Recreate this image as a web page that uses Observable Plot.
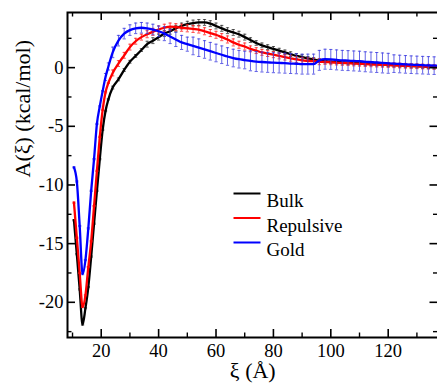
<!DOCTYPE html>
<html>
<head>
<meta charset="utf-8">
<script src="https://cdn.jsdelivr.net/npm/d3@7"></script>
<script src="https://cdn.jsdelivr.net/npm/@observablehq/plot@0.6"></script>
<style>
  html, body { margin: 0; padding: 0; background: #fff; overflow: hidden; }
  svg, svg text { font-family: 'Liberation Serif', 'Times New Roman', serif !important; }
</style>
</head>
<body>
<div id="chart"></div>
<script>
// ξ (Å) sample positions
const xs = [10.5, 11.5, 12.5, 13.5, 14.5, 15.5, 16.5, 17.5, 18.5, 19.5, 20.5, 21.5, 22.5,
  24, 26, 28, 30, 32, 34, 36, 38, 40, 42, 44, 46, 48, 50, 52, 54, 56, 58, 60, 62, 64, 66, 68, 70,
  72, 74, 76, 78, 80, 82, 84, 86, 88, 90, 92, 94, 96, 98, 100, 102, 104, 106, 108, 110, 112, 114,
  116, 118, 120, 122, 124, 126, 128, 130, 132, 134, 136, 138];

// A(ξ) (kcal/mol)
const bulk = [-13.0, -15.9, -18.9, -21.9, -20.5, -18.7, -16.1, -13.3, -10.5, -7.8, -5.3, -3.7, -2.7,
  -1.7, -1.0, -0.2, 0.5, 1.0, 1.5, 2.0, 2.3, 2.6, 2.9, 3.1, 3.35, 3.55, 3.7, 3.8, 3.85, 3.85, 3.75, 3.55, 3.35, 3.15, 3.0, 2.85, 2.6,
  2.35, 2.1, 1.9, 1.75, 1.6, 1.45, 1.3, 1.15, 1.0, 0.9, 0.8, 0.7, 0.6, 0.55, 0.5, 0.48, 0.45, 0.42, 0.4, 0.38, 0.35, 0.33,
  0.3, 0.28, 0.25, 0.22, 0.2, 0.18, 0.15, 0.13, 0.1, 0.08, 0.05, 0.04];
const repulsive = [-11.5, -14.5, -17.5, -20.4, -19.4, -17.0, -14.8, -11.8, -8.8, -5.9, -3.6, -2.1, -1.3,
  -0.45, 0.35, 1.05, 1.75, 2.25, 2.6, 2.85, 3.05, 3.25, 3.4, 3.5, 3.45, 3.4, 3.35, 3.3, 3.25, 3.1, 2.95, 2.8, 2.6, 2.4, 2.15, 1.95, 1.8,
  1.6, 1.45, 1.3, 1.2, 1.1, 1.0, 0.9, 0.8, 0.7, 0.62, 0.58, 0.55, 0.5, 0.48, 0.45, 0.43, 0.4, 0.38, 0.35, 0.33, 0.3, 0.28,
  0.26, 0.24, 0.22, 0.2, 0.18, 0.16, 0.14, 0.12, 0.1, 0.08, 0.06, 0.05];
const gold = [-8.5, -9.7, -13.5, -17.6, -16.4, -13.7, -10.5, -7.8, -4.8, -3.3, -2.0, -0.8, 0.1,
  1.3, 2.3, 2.9, 3.2, 3.35, 3.4, 3.35, 3.25, 3.1, 2.9, 2.65, 2.4, 2.15, 2.0, 1.85, 1.7, 1.55, 1.4, 1.25, 1.1, 0.95, 0.82, 0.72, 0.65,
  0.58, 0.52, 0.48, 0.45, 0.42, 0.4, 0.38, 0.35, 0.33, 0.3, 0.3, 0.3, 0.62, 0.72, 0.7, 0.66, 0.62, 0.6, 0.57, 0.55, 0.5, 0.47,
  0.44, 0.4, 0.37, 0.34, 0.31, 0.28, 0.25, 0.23, 0.21, 0.19, 0.17, 0.16];

// error bar half-widths
const bulkErr = [0.05, 0.05, 0.05, 0.05, 0.05, 0.05, 0.05, 0.05, 0.05, 0.05, 0.05, 0.05, 0.05,
  0.12, 0.12, 0.12, 0.12, 0.12, 0.12, 0.25, 0.25, 0.25, 0.25, 0.25, 0.25, 0.25, 0.25, 0.25, 0.25, 0.25, 0.25, 0.25, 0.25, 0.25, 0.25, 0.25, 0.25,
  0.2, 0.2, 0.2, 0.2, 0.2, 0.2, 0.2, 0.2, 0.2, 0.2, 0.15, 0.15, 0.15, 0.15, 0.15, 0.15, 0.15, 0.15, 0.15, 0.15, 0.15, 0.15,
  0.15, 0.15, 0.15, 0.15, 0.15, 0.15, 0.15, 0.15, 0.15, 0.15, 0.15, 0.15];
const repulsiveErr = [0.05, 0.05, 0.05, 0.05, 0.05, 0.05, 0.05, 0.05, 0.05, 0.05, 0.05, 0.05, 0.05,
  0.25, 0.25, 0.25, 0.25, 0.25, 0.25, 0.3, 0.3, 0.3, 0.3, 0.3, 0.3, 0.3, 0.3, 0.3, 0.3, 0.3, 0.3, 0.3, 0.3, 0.3, 0.3, 0.3, 0.3,
  0.25, 0.25, 0.25, 0.25, 0.25, 0.25, 0.25, 0.25, 0.25, 0.25, 0.25, 0.25, 0.25, 0.2, 0.2, 0.2, 0.2, 0.2, 0.2, 0.2, 0.2, 0.2,
  0.2, 0.2, 0.2, 0.2, 0.2, 0.2, 0.2, 0.2, 0.2, 0.2, 0.2, 0.2];
const goldErr = [0.05, 0.05, 0.05, 0.05, 0.05, 0.05, 0.05, 0.05, 0.05, 0.05, 0.05, 0.3, 0.3,
  0.45, 0.45, 0.45, 0.45, 0.45, 0.45, 0.45, 0.45, 0.45, 0.6, 0.6, 0.6, 0.6, 0.6, 0.75, 0.75, 0.75, 0.75, 0.75, 0.75, 0.75, 0.75, 0.75, 0.75,
  0.85, 0.85, 0.85, 0.85, 0.85, 0.85, 0.85, 0.85, 0.85, 0.85, 0.85, 0.85, 0.85, 0.85, 0.85, 0.85, 0.85, 0.85, 0.85, 0.85, 0.85, 0.85,
  0.85, 0.85, 0.85, 0.75, 0.75, 0.75, 0.75, 0.75, 0.75, 0.75, 0.75, 0.75];

const seriesNames = ["Bulk", "Repulsive", "Gold"];
const xMajor = [20, 40, 60, 80, 100, 120];
const xMinor = [10, 30, 50, 70, 90, 110, 130];
const yMajor = [-20, -15, -10, -5, 0];
const yMinor = [-22.5, -17.5, -12.5, -7.5, -2.5, 2.5];

const values = {Bulk: bulk, Repulsive: repulsive, Gold: gold};
const errs = {Bulk: bulkErr, Repulsive: repulsiveErr, Gold: goldErr};
const colors = {Bulk: "#000000", Repulsive: "#ff0000", Gold: "#0000ff"};
const barColors = {Bulk: "#333333", Repulsive: "#ff2020", Gold: "#3a3ae0"};

const W = 440, H = 388;
const mL = 67, mT = 12, mB = 51, mR = 2.5;
const fw = W - mL - mR, fh = H - mT - mB;
const font = "'Liberation Serif', 'Times New Roman', serif";

const cap = {draw(ctx) { ctx.moveTo(-1.6, 0); ctx.lineTo(1.6, 0); }};
const legendSeg = {draw(ctx) { ctx.moveTo(-13.5, 0); ctx.lineTo(13.5, 0); }};

const marks = [];
for (const s of seriesNames) {
  const rows = xs.map((x, i) => ({x, y: values[s][i], lo: values[s][i] - errs[s][i], hi: values[s][i] + errs[s][i]}));
  marks.push(Plot.ruleX(rows, {x: "x", y1: "lo", y2: "hi", stroke: barColors[s], strokeWidth: 0.8}));
  marks.push(Plot.dot(rows, {x: "x", y: "lo", symbol: cap, r: 1, stroke: barColors[s], strokeWidth: 0.8}));
  marks.push(Plot.dot(rows, {x: "x", y: "hi", symbol: cap, r: 1, stroke: barColors[s], strokeWidth: 0.8}));
  marks.push(Plot.line(rows, {x: "x", y: "y", stroke: colors[s], strokeWidth: 2.3, curve: "monotone-x"}));
}

// legend
seriesNames.forEach((s, i) => {
  const cy = 193 + 24.5 * i - mT;
  marks.push(Plot.dot([s], {frameAnchor: "top-left", dx: 246.5 - mL, dy: cy, symbol: legendSeg, r: 1, stroke: colors[s], strokeWidth: 2}));
  marks.push(Plot.text([s], {frameAnchor: "top-left", dx: 266 - mL, dy: cy, text: d => d, textAnchor: "start", fontSize: 19, fontFamily: font, fill: "#000"}));
});

// inward ticks on all four sides
marks.push(
  Plot.tickX(xMajor, {x: d => d, insetTop: fh - 8, stroke: "#000", strokeWidth: 1.6}),
  Plot.tickX(xMajor, {x: d => d, insetBottom: fh - 8, stroke: "#000", strokeWidth: 1.6}),
  Plot.tickX(xMinor, {x: d => d, insetTop: fh - 4.5, stroke: "#000", strokeWidth: 1.4}),
  Plot.tickX(xMinor, {x: d => d, insetBottom: fh - 4.5, stroke: "#000", strokeWidth: 1.4}),
  Plot.tickY(yMajor, {y: d => d, insetRight: fw - 8, stroke: "#000", strokeWidth: 1.6}),
  Plot.tickY(yMajor, {y: d => d, insetLeft: fw - 8, stroke: "#000", strokeWidth: 1.6}),
  Plot.tickY(yMinor, {y: d => d, insetRight: fw - 4.5, stroke: "#000", strokeWidth: 1.4}),
  Plot.tickY(yMinor, {y: d => d, insetLeft: fw - 4.5, stroke: "#000", strokeWidth: 1.4}),
  Plot.frame({stroke: "#000", strokeWidth: 2}),
  Plot.axisX({ticks: xMajor, tickSize: 0, tickPadding: 6, tickFormat: d => String(d), label: null, fontSize: 18.5, fontFamily: font}),
  Plot.axisY({ticks: yMajor, tickSize: 0, tickPadding: 4, tickFormat: d => String(d), label: null, fontSize: 18.5, fontFamily: font}),
  Plot.text(["ξ (Å)"], {frameAnchor: "bottom", dy: 40, text: d => d, fontSize: 22, fontFamily: font, fill: "#000"}),
  Plot.text(["A(ξ) (kcal/mol)"], {frameAnchor: "left", dx: -44.5, dy: 2.5, rotate: -90, text: d => d, fontSize: 22, fontFamily: font, fill: "#000"})
);

const chart = Plot.plot({
  width: W, height: H,
  marginLeft: mL, marginTop: mT, marginBottom: mB, marginRight: mR,
  x: {domain: [8.25, 137.35]},
  y: {domain: [-23, 4.7]},
  style: {fontFamily: font, fontSize: "18.5px", color: "#000", background: "#fff", maxWidth: "none", overflow: "visible"},
  marks
});
document.getElementById("chart").appendChild(chart);
</script>
</body>
</html>
